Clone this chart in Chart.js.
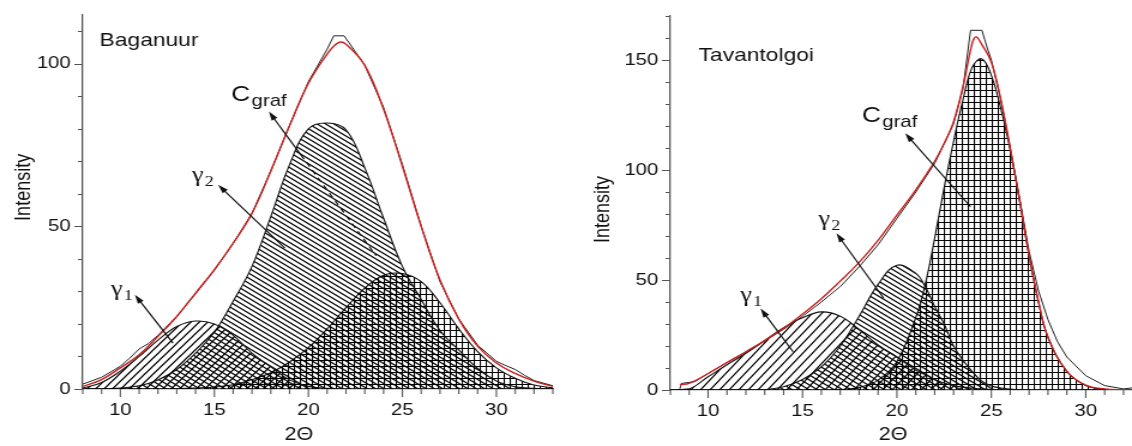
<!DOCTYPE html>
<html>
<head>
<meta charset="utf-8">
<script src="https://cdn.jsdelivr.net/npm/chart.js@4/dist/chart.umd.min.js"></script>
<style>
  body { margin: 0; background: #fff; }
  .row { display: flex; width: 1132px; height: 446px; }
</style>
</head>
<body>
<div class="row">
  <!-- the original figure is stretched sideways: draw narrow, show wide -->
  <canvas id="baganuur" width="472" height="446" style="width:566px;height:446px"></canvas>
  <canvas id="tavantolgoi" width="472" height="446" style="width:566px;height:446px"></canvas>
</div>
<script>
const thetaTicks = [10, 15, 20, 25, 30];
const bagYTicks = [0, 50, 100];
const tavYTicks = [0, 50, 100, 150];

// Baganuur: fitted components on a common 2-theta grid
const bagTheta = [8, 9, 10, 11, 12, 13, 14, 15, 16, 17, 18, 19, 20, 21, 22, 23, 24, 25, 26, 27, 28, 29, 30, 31, 32, 33];
const bagGamma1 = [0.3, 2, 5.5, 10, 15, 19.2, 20.9, 20, 16.5, 11, 6.8, 2.8, 0.8, 0.2, 0, 0, 0, 0, 0, 0, 0, 0, 0, 0, 0, 0];
const bagGamma2 = [0, 0, 0.3, 1, 2.8, 6, 11, 17.5, 27, 37.7, 53, 69, 80, 81.8, 79.7, 68, 52.5, 37.7, 27.5, 18, 12, 6.3, 2.5, 0.7, 0.2, 0];
const bagCgraf = [0, 0, 0, 0, 0, 0.1, 0.3, 0.6, 1.3, 2.9, 5, 8.3, 12.7, 18.5, 25, 31, 35, 35.5, 33, 26.5, 18.5, 11.5, 6.5, 3.3, 1.2, 0.4];
// Baganuur: fit (red) and measured curve (black)
const bagFitTheta = [8, 9, 10, 11, 12, 13, 14, 15, 16, 17, 18, 19, 20, 21, 21.6, 22, 23, 24, 25, 26, 27, 28, 29, 30, 31, 32, 33];
const bagFit = [0.8, 2.9, 6.5, 10.5, 16.2, 22.3, 29.5, 36.7, 44.9, 54, 67, 81, 94, 103, 106.5, 106, 99.5, 86, 68.5, 50, 33.5, 21.5, 13.2, 8, 4.8, 2.4, 0.8];
const bagExpTheta = [8, 9, 10, 10.5, 11, 11.5, 12, 13, 14, 15, 16, 17, 18, 19, 20, 21, 21.35, 21.9, 22.4, 23, 24, 25, 26, 27, 28, 29, 30, 30.5, 31, 31.5, 32, 33];
const bagExp = [1.5, 3.6, 7, 9.5, 12.3, 14, 16.5, 22.3, 29.3, 36.5, 44.7, 54, 67, 81, 94.5, 104.5, 108.6, 108.6, 104.5, 99.5, 86.5, 69, 50, 33, 21.5, 13.5, 8.5, 7.2, 6, 4.2, 2.6, 1];

// Tavantolgoi
const tavTheta = [8, 9, 10, 11, 12, 13, 14, 15, 16, 17, 18, 19, 20, 21, 21.5, 22, 22.5, 23, 23.5, 24, 24.5, 25, 25.5, 26, 26.5, 27, 27.5, 28, 29, 30, 31, 32, 33];
const tavGamma1 = [0, 0.5, 6, 11.5, 16.7, 22.5, 28.3, 32.8, 35.5, 33.5, 27.5, 20.5, 15, 9, 7, 4.8, 3.2, 2, 1.3, 0.8, 0.5, 0.2, 0.1, 0, 0, 0, 0, 0, 0, 0, 0, 0, 0];
const tavGamma2 = [0, 0, 0, 0, 0, 0.2, 1.5, 4.8, 10.5, 20, 33.5, 48, 56.7, 53, 47, 38, 30, 20, 13.5, 8.3, 4, 1.8, 0.9, 0.4, 0.1, 0, 0, 0, 0, 0, 0, 0, 0];
const tavCgraf = [0, 0, 0, 0, 0, 0, 0, 0, 0, 0.2, 1.2, 4.5, 13, 33, 48, 69, 92, 113, 132, 147, 150.5, 143, 128, 109, 86, 61, 40, 24, 8.5, 2, 0.3, 0, 0];
const tavFitTheta = [8.5, 9, 10, 11, 12, 13, 14, 15, 16, 17, 18, 19, 20, 21, 22, 22.5, 23, 23.5, 24, 24.2, 24.5, 25, 25.5, 26, 26.5, 27, 27.5, 28, 29, 30, 31, 32, 33];
const tavFit = [2.5, 3, 7.5, 12.5, 17.4, 22.5, 28, 34.5, 41.5, 49.5, 58, 68, 79.5, 91, 104, 112, 122, 138, 158, 160.5, 157, 149, 132, 110, 86, 61, 40, 24, 8.5, 2.2, 0.5, 0.1, 0];
const tavExpTheta = [8.5, 8.6, 9.3, 10, 11, 12, 13, 14, 15, 16, 17, 18, 19, 20, 21, 22, 23, 23.5, 23.9, 24.5, 24.8, 25, 25.5, 26, 26.5, 27, 27.5, 28, 28.5, 29, 30, 31, 32, 33];
const tavExp = [0.5, 3, 3.8, 7.5, 12.5, 17.3, 22.3, 27.6, 33.5, 40, 47, 56, 66, 78, 90, 103, 121, 137, 163.5, 163.5, 155, 150, 132, 110, 87, 63, 45, 32, 22, 15, 6.5, 2, 0.5, 1.5];

Chart.defaults.font.family = '"Liberation Sans", Arial, sans-serif';
Chart.defaults.color = '#111';

function pts(xs, ys) {
  return xs.map((x, i) => ({ x, y: ys[i] }));
}

// hatch fill: '/' and '\' line families or a square grid
function hatch(ctx, kind, w, h) {
  const c = document.createElement('canvas');
  c.width = w; c.height = h;
  const g = c.getContext('2d');
  g.strokeStyle = '#000';
  g.lineWidth = 1.2;
  g.beginPath();
  if (kind === 'grid') {
    g.moveTo(0, 0.5); g.lineTo(w, 0.5);
    g.moveTo(0.5, 0); g.lineTo(0.5, h);
  } else {
    for (let k = -1; k <= 2; k++) {
      if (kind === '/') { g.moveTo(-w, k * h + h); g.lineTo(2 * w, k * h - 2 * h); }
      else { g.moveTo(-w, k * h - h); g.lineTo(2 * w, k * h + 2 * h); }
    }
  }
  g.stroke();
  return ctx.createPattern(c, 'repeat');
}

function arrow(ctx, x0, y0, x1, y1) {
  const a = Math.atan2(y1 - y0, x1 - x0);
  const c = Math.cos(a), s = Math.sin(a);
  ctx.beginPath();
  ctx.moveTo(x0, y0);
  ctx.lineTo(x1 - 6 * c, y1 - 6 * s);
  ctx.stroke();
  ctx.beginPath();
  ctx.moveTo(x1, y1);
  ctx.lineTo(x1 - 9 * c + 2.8 * s, y1 - 9 * s - 2.8 * c);
  ctx.lineTo(x1 - 9 * c - 2.8 * s, y1 - 9 * s + 2.8 * c);
  ctx.closePath();
  ctx.fill();
}

// outward major / minor tick marks
const axisTicks = {
  id: 'axisTicks',
  afterDraw(chart, args, opts) {
    const { ctx, chartArea: a, scales: { x, y } } = chart;
    ctx.save();
    ctx.strokeStyle = '#555';
    ctx.lineWidth = 1.1;
    ctx.beginPath();
    for (let v = Math.ceil(x.min); v <= x.max; v++) {
      const p = x.getPixelForValue(v);
      ctx.moveTo(p, a.bottom);
      ctx.lineTo(p, a.bottom + (v % 5 === 0 ? 8 : 5));
    }
    for (let v = 0; v <= y.max; v += opts.yMinor) {
      const p = Math.round(y.getPixelForValue(v)) + 0.5;
      ctx.moveTo(a.left, p);
      ctx.lineTo(a.left - (v % opts.yMajor === 0 ? 7 : 4), p);
    }
    ctx.stroke();
    ctx.restore();
  }
};

// axis titles, panel name, peak labels and arrows
const notes = {
  id: 'notes',
  afterDatasetsDraw(chart, args, opts) {
    const { ctx, scales: { x, y } } = chart;
    const px = v => x.getPixelForValue(v);
    const py = v => y.getPixelForValue(v);
    ctx.save();
    ctx.fillStyle = '#111';
    ctx.strokeStyle = '#111';
    ctx.textAlign = 'center';
    ctx.textBaseline = 'middle';
    ctx.font = '18px "Liberation Sans"';
    ctx.fillText('2Θ', px(opts.xTitleAt), chart.height - 11);
    ctx.save();
    ctx.translate(opts.yTitleAt[0], py(opts.yTitleAt[1]));
    ctx.rotate(-Math.PI / 2);
    ctx.fillText('Intensity', 0, 0);
    ctx.restore();
    ctx.textAlign = 'left';
    ctx.font = '19px "Liberation Sans"';
    ctx.fillText(opts.name[0], px(opts.name[1]), py(opts.name[2]));
    ctx.textBaseline = 'alphabetic';
    opts.labels.forEach(l => {
      const bx = px(l.at[0]), by = py(l.at[1]);
      ctx.font = l.serif ? '22px "Liberation Serif"' : '22px "Liberation Sans"';
      ctx.fillText(l.main, bx, by);
      const w = ctx.measureText(l.main).width;
      ctx.font = l.serif ? '15px "Liberation Serif"' : '17px "Liberation Sans"';
      ctx.fillText(l.sub, bx + w + 1, by + 5);
    });
    ctx.lineWidth = 1.2;
    opts.arrows.forEach(r => arrow(ctx, px(r[0]), py(r[1]), px(r[2]), py(r[3])));
    ctx.setLineDash([5, 4]);
    opts.dashed.forEach(r => {
      ctx.beginPath();
      ctx.moveTo(px(r[0]), py(r[1]));
      ctx.lineTo(px(r[2]), py(r[3]));
      ctx.stroke();
    });
    ctx.restore();
  }
};

function flat(s) {
  s.paddingTop = 0; s.paddingBottom = 0; s.paddingLeft = 0; s.paddingRight = 0;
}

function scales(xMax, yMax, yTicks, yWidth, xHeight) {
  return {
    x: {
      type: 'linear', min: 8, max: xMax,
      border: { color: '#555', width: 1.3 },
      grid: { display: false, drawTicks: false },
      ticks: { padding: 11, color: '#111', font: { size: 17 } },
      afterBuildTicks: s => { s.ticks = thetaTicks.map(value => ({ value })); },
      afterFit: s => { flat(s); s.height = xHeight; }
    },
    y: {
      min: 0, max: yMax,
      border: { color: '#555', width: 1.3 },
      grid: { display: false, drawTicks: false },
      ticks: { padding: 10, color: '#111', font: { size: 17 } },
      afterBuildTicks: s => { s.ticks = yTicks.map(value => ({ value })); },
      afterFit: s => { flat(s); s.width = yWidth; }
    }
  };
}

function peakSet(data, fill) {
  return { data, borderColor: '#111', borderWidth: 1.1, backgroundColor: fill, fill: 'origin', tension: 0.4 };
}

const bagCtx = document.getElementById('baganuur').getContext('2d');
new Chart(bagCtx, {
  type: 'line',
  data: {
    datasets: [
      { data: pts(bagFitTheta, bagFit), borderColor: '#c8211f', borderWidth: 1.4, fill: false, tension: 0.4 },
      { data: pts(bagExpTheta, bagExp), borderColor: '#222', borderWidth: 1, fill: false, tension: 0 },
      peakSet(pts(bagTheta, bagGamma1), hatch(bagCtx, '/', 7, 8)),
      peakSet(pts(bagTheta, bagGamma2), hatch(bagCtx, '\\', 7, 5)),
      peakSet(pts(bagTheta, bagCgraf), hatch(bagCtx, 'grid', 5, 6))
    ]
  },
  options: {
    responsive: false,
    animation: false,
    layout: { padding: { left: 0, right: 11, top: 15, bottom: 0 } },
    elements: { point: { radius: 0 } },
    scales: scales(33, 115, bagYTicks, 69, 57),
    plugins: {
      legend: { display: false },
      tooltip: { enabled: false },
      axisTicks: { yMinor: 10, yMajor: 50 },
      notes: {
        xTitleAt: 19.5,
        yTitleAt: [20, 62],
        name: ['Baganuur', 8.9, 107],
        labels: [
          { main: 'γ', sub: '1', at: [9.5, 29], serif: true },
          { main: 'γ', sub: '2', at: [13.8, 64], serif: true },
          { main: 'C', sub: 'graf', at: [15.9, 88.6] }
        ],
        arrows: [[12.8, 14.1, 10.77, 29], [18.75, 43.3, 15.2, 62.8], [19.6, 72, 17.9, 85.3]],
        dashed: [[19.6, 72, 23.6, 41]]
      }
    }
  },
  plugins: [axisTicks, notes]
});

const tavCtx = document.getElementById('tavantolgoi').getContext('2d');
new Chart(tavCtx, {
  type: 'line',
  data: {
    datasets: [
      { data: pts(tavFitTheta, tavFit), borderColor: '#c8211f', borderWidth: 1.4, fill: false, tension: 0.4 },
      { data: pts(tavExpTheta, tavExp), borderColor: '#222', borderWidth: 1, fill: false, tension: 0 },
      peakSet(pts(tavTheta, tavGamma1), hatch(tavCtx, '/', 8, 10)),
      peakSet(pts(tavTheta, tavGamma2), hatch(tavCtx, '\\', 7, 5)),
      peakSet(pts(tavTheta, tavCgraf), hatch(tavCtx, 'grid', 5, 6))
    ]
  },
  options: {
    responsive: false,
    animation: false,
    layout: { padding: { left: 0, right: 0, top: 16, bottom: 0 } },
    elements: { point: { radius: 0 } },
    scales: scales(32.45, 170, tavYTicks, 87, 56),
    plugins: {
      legend: { display: false },
      tooltip: { enabled: false },
      axisTicks: { yMinor: 10, yMajor: 50 },
      notes: {
        xTitleAt: 19.8,
        yTitleAt: [31.5, 82],
        name: ['Tavantolgoi', 9.5, 152],
        labels: [
          { main: 'γ', sub: '1', at: [11.7, 40.5], serif: true },
          { main: 'γ', sub: '2', at: [15.85, 75], serif: true },
          { main: 'C', sub: 'graf', at: [18.15, 122] }
        ],
        arrows: [[14.5, 17.4, 12.78, 37], [19.3, 41.7, 16.8, 71.2], [23.9, 83.3, 20.44, 116.7]],
        dashed: []
      }
    }
  },
  plugins: [axisTicks, notes]
});
</script>
</body>
</html>
